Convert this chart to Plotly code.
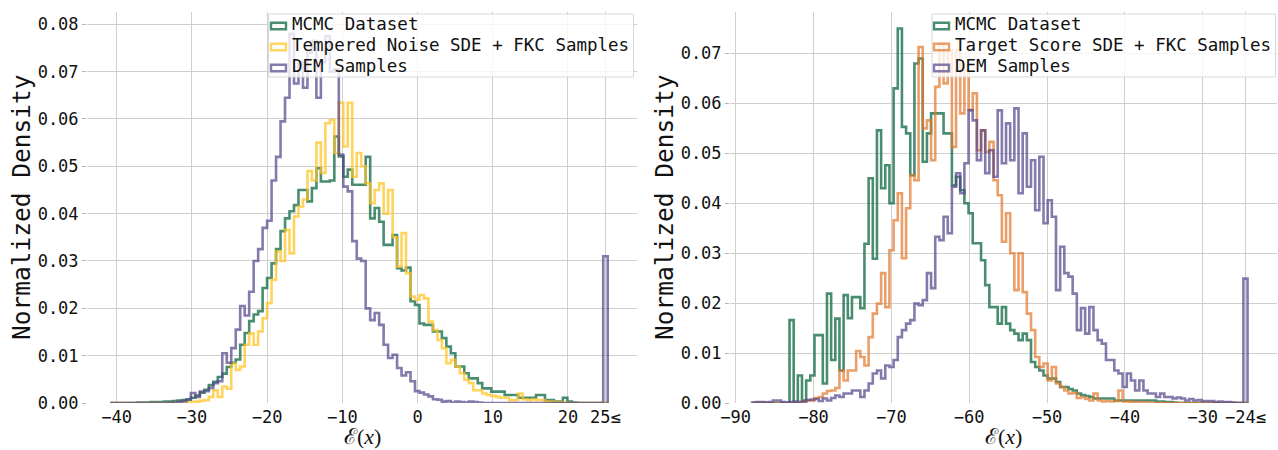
import numpy as np
import plotly.graph_objects as go

W, H = 1278, 450

# ---------------------------------------------------------------- data
# Histogram binning (left: tempered-noise experiment, right: target-score experiment)
L_START, L_WIDTH = -40.86, 0.596
R_START, R_WIDTH = -87.9, 0.535

# Left panel: normalized densities per bin (last bin = overflow, "25<=")
MCMC_L = [
    0, 0, 0, 0, 0, 0, 0.0001, 0.0001, 0.0001, 0.0002,
    0.0002, 0.0002, 0.0003, 0.0003, 0.0004, 0.0005, 0.0006, 0.0007, 0.0011, 0.0016,
    0.0022, 0.0028, 0.0038, 0.0045, 0.0055, 0.0062, 0.0076, 0.0085, 0.0092, 0.0123,
    0.0148, 0.0173, 0.0187, 0.0194, 0.0243, 0.0264, 0.0295, 0.0325, 0.0363, 0.0390,
    0.0405, 0.0418, 0.0450, 0.0450, 0.0426, 0.0454, 0.0496, 0.0468, 0.0468, 0.0470,
    0.0563, 0.0521, 0.0478, 0.0493, 0.0461, 0.0461, 0.0461, 0.0520, 0.0390, 0.0412,
    0.0383, 0.0334, 0.0334, 0.0355, 0.0285, 0.0280, 0.0286, 0.0215, 0.0207, 0.0168,
    0.0165, 0.0165, 0.0151, 0.0151, 0.0137, 0.0119, 0.0105, 0.0077, 0.0077, 0.0063,
    0.0052, 0.0052, 0.0042, 0.0031, 0.0031, 0.0024, 0.0024, 0.0024, 0.0017, 0.0017,
    0.0017, 0.0011, 0.0011, 0.0011, 0.0011, 0.0017, 0.0017, 0.0006, 0.0006, 0.0003,
    0.0003, 0.0011, 0.0003, 0.0001, 0, 0, 0, 0, 0, 0, 0,
]
TEMPERED_L = [
    0, 0, 0, 0, 0, 0, 0, 0, 0, 0,
    0, 0, 0, 0, 0, 0, 0, 0.0001, 0.0002, 0.0003,
    0.0005, 0.0006, 0.0013, 0.0027, 0.0013, 0.0035, 0.0030, 0.0084, 0.0070, 0.0077,
    0.0123, 0.0147, 0.0123, 0.0151, 0.0179, 0.0211, 0.0260, 0.0320, 0.0300, 0.0366,
    0.0316, 0.0394, 0.0415, 0.0430, 0.0490, 0.0470, 0.0550, 0.0486, 0.0591, 0.0598,
    0.0528, 0.0634, 0.0542, 0.0634, 0.0478, 0.0528, 0.0500, 0.0464, 0.0422, 0.0450,
    0.0464, 0.0400, 0.0450, 0.0350, 0.0288, 0.0359, 0.0274, 0.0225, 0.0218, 0.0228,
    0.0221, 0.0172, 0.0154, 0.0133, 0.0116, 0.0084, 0.0091, 0.0077, 0.0063, 0.0049,
    0.0042, 0.0027, 0.0027, 0.0020, 0.0017, 0.0015, 0.0013, 0.0011, 0.0011, 0.0006,
    0.0006, 0.0020, 0.0008, 0.0006, 0.0008, 0.0006, 0.0006, 0.0003, 0.0003, 0.0002,
    0.0002, 0.0001, 0, 0, 0, 0, 0, 0, 0, 0, 0,
]
DEM_L = [
    0, 0, 0, 0, 0, 0, 0, 0, 0, 0,
    0, 0, 0, 0.0001, 0, 0.0002, 0.0004, 0.0008, 0.0021, 0.0013,
    0.0024, 0.0025, 0.0032, 0.0042, 0.0046, 0.0105, 0.0085, 0.0116, 0.0155, 0.0205,
    0.0185, 0.0235, 0.0300, 0.0325, 0.0370, 0.0385, 0.0470, 0.0520, 0.0595, 0.0645,
    0.0780, 0.0675, 0.0720, 0.0666, 0.0740, 0.0765, 0.0645, 0.0720, 0.0775, 0.0700,
    0.0705, 0.0525, 0.0457, 0.0447, 0.0342, 0.0305, 0.0300, 0.0200, 0.0175, 0.0190,
    0.0165, 0.0123, 0.0095, 0.0102, 0.0074, 0.0058, 0.0065, 0.0046, 0.0025, 0.0022,
    0.0018, 0.0014, 0.0008, 0.0007, 0.0003, 0.0004, 0.0001, 0.0003, 0.0002, 0.0001,
    0.0003, 0.0002, 0.0001, 0, 0, 0, 0, 0, 0, 0,
    0, 0, 0, 0, 0, 0, 0, 0, 0, 0,
    0, 0, 0, 0, 0, 0, 0, 0, 0, 0, 0.0310,
]

# Right panel: normalized densities per bin (last bin = overflow, "-24<=")
MCMC_R = [
    0, 0, 0, 0, 0, 0, 0, 0, 0, 0.0166,
    0, 0.0055, 0.0005, 0.0045, 0.0055, 0.0136, 0.0136, 0.0039, 0.0219, 0.0086,
    0.0169, 0.0065, 0.0216, 0.0170, 0.0212, 0.0212, 0.0190, 0.0319, 0.0450, 0.0289,
    0.0546, 0.0430, 0.0476, 0.0400, 0.0630, 0.0750, 0.0553, 0.0540, 0.0456, 0.0680,
    0.0690, 0.0483, 0.0540, 0.0580, 0.0580, 0.0580, 0.0540, 0.0540, 0.0436, 0.0453,
    0.0426, 0.0400, 0.0380, 0.0320, 0.0320, 0.0286, 0.0236, 0.0192, 0.0192, 0.0159,
    0.0192, 0.0159, 0.0146, 0.0139, 0.0126, 0.0139, 0.0126, 0.0082, 0.0072, 0.0065,
    0.0055, 0.0049, 0.0049, 0.0042, 0.0032, 0.0032, 0.0028, 0.0025, 0.0019, 0.0016,
    0.0014, 0.0012, 0.0009, 0.0009, 0.0009, 0.0009, 0.0009, 0.0005, 0.0005, 0.0005,
    0.0005, 0.0005, 0.0005, 0.0005, 0.0005, 0.0005, 0.0005, 0.0003, 0.0003, 0.0002,
    0.0002, 0.0001, 0, 0, 0, 0, 0, 0, 0, 0,
    0, 0, 0, 0, 0, 0, 0, 0, 0,
]
TARGET_R = [
    0, 0, 0, 0, 0, 0, 0, 0, 0, 0,
    0, 0, 0.0003, 0.0005, 0.0005, 0.0010, 0.0012, 0.0019, 0.0024, 0.0025,
    0.0030, 0.0065, 0.0045, 0.0065, 0.0065, 0.0104, 0.0092, 0.0075, 0.0132, 0.0179,
    0.0199, 0.0260, 0.0192, 0.0306, 0.0366, 0.0420, 0.0290, 0.0390, 0.0456, 0.0446,
    0.0713, 0.0550, 0.0566, 0.0486, 0.0633, 0.0720, 0.0640, 0.0707, 0.0513, 0.0707,
    0.0580, 0.0667, 0.0587, 0.0620, 0.0506, 0.0546, 0.0503, 0.0523, 0.0446, 0.0416,
    0.0323, 0.0380, 0.0300, 0.0226, 0.0300, 0.0222, 0.0179, 0.0146, 0.0092, 0.0072,
    0.0079, 0.0045, 0.0072, 0.0039, 0.0032, 0.0025, 0.0019, 0.0020, 0.0010, 0.0012,
    0.0008, 0.0005, 0.0019, 0.0005, 0.0003, 0.0004, 0.0003, 0.0004, 0.0025, 0.0003,
    0.0003, 0.0002, 0.0002, 0.0001, 0.0001, 0.0001, 0, 0, 0, 0,
    0, 0, 0, 0, 0, 0, 0, 0, 0, 0,
    0, 0, 0, 0, 0, 0, 0, 0, 0,
]
DEM_R = [
    0.0001, 0.0002, 0.0002, 0.0001, 0.0002, 0.0005, 0.0005, 0.0002, 0.0001, 0.0002,
    0.0003, 0.0002, 0.0003, 0.0006, 0.0007, 0.0008, 0.0004, 0.0009, 0.0005, 0.0010,
    0.0015, 0.0012, 0.0019, 0.0019, 0.0025, 0.0025, 0.0012, 0.0025, 0.0039, 0.0059,
    0.0065, 0.0049, 0.0075, 0.0072, 0.0086, 0.0132, 0.0146, 0.0159, 0.0166, 0.0199,
    0.0196, 0.0206, 0.0260, 0.0230, 0.0333, 0.0326, 0.0373, 0.0340, 0.0433, 0.0460,
    0.0420, 0.0480, 0.0586, 0.0566, 0.0486, 0.0546, 0.0460, 0.0506, 0.0453, 0.0586,
    0.0480, 0.0560, 0.0486, 0.0590, 0.0420, 0.0540, 0.0433, 0.0486, 0.0386, 0.0493,
    0.0360, 0.0406, 0.0373, 0.0226, 0.0313, 0.0260, 0.0253, 0.0219, 0.0146, 0.0190,
    0.0139, 0.0192, 0.0146, 0.0126, 0.0119, 0.0086, 0.0086, 0.0065, 0.0059, 0.0032,
    0.0059, 0.0045, 0.0025, 0.0045, 0.0025, 0.0019, 0.0019, 0.0012, 0.0019, 0.0012,
    0.0012, 0.0009, 0.0011, 0.0009, 0.0005, 0.0008, 0.0005, 0.0006, 0.0004, 0.0004,
    0.0004, 0.0002, 0.0003, 0.0002, 0.0002, 0.0001, 0, 0, 0.0249,
]

L_XTICKS = [-40, -30, -20, -10, 0, 10, 20]
R_XTICKS = [-90, -80, -70, -60, -50, -40, -30]
L_OVERFLOW_LABEL = "25≤"
R_OVERFLOW_LABEL = "−24≤"
L_YTICKS = [0.00, 0.01, 0.02, 0.03, 0.04, 0.05, 0.06, 0.07, 0.08]
R_YTICKS = [0.00, 0.01, 0.02, 0.03, 0.04, 0.05, 0.06, 0.07]

L_NAMES = ["MCMC Dataset", "Tempered Noise SDE + FKC Samples", "DEM Samples"]
R_NAMES = ["MCMC Dataset", "Target Score SDE + FKC Samples", "DEM Samples"]

# ---------------------------------------------------------------- style
C_MCMC = "rgba(27,112,78,0.80)"
C_TEMP = "rgba(255,196,32,0.72)"
C_DEM = "rgba(84,70,138,0.72)"
C_TGT = "rgba(226,122,46,0.72)"
LW = 2.6
MONO = "DejaVu Sans Mono"
TXT = "#111111"
GRID = "#cfcfcf"

# subplot placement in pixels
L_BOX = (87, 637)
R_BOX = (730, 1277)
TOP_PX, BOT_PX = 12, 403


def step_xy(start, width, vals):
    """Outline of a step histogram (matplotlib histtype='step')."""
    vals = np.asarray(vals, dtype=float)
    edges = start + width * np.arange(len(vals) + 1)
    x = np.concatenate([[edges[0]], edges[:-1], [edges[-1]]])
    y = np.concatenate([[0.0], vals, [0.0]])
    return x, y


def minus(v):
    return f"{v}".replace("-", "−")


fig = go.Figure()

for vals, col, name in zip([MCMC_L, TEMPERED_L, DEM_L], [C_MCMC, C_TEMP, C_DEM], L_NAMES):
    x, y = step_xy(L_START, L_WIDTH, vals)
    fig.add_trace(go.Scatter(x=x, y=y, mode="lines", line=dict(color=col, width=LW, shape="hv"),
                             name=name, showlegend=False, xaxis="x", yaxis="y"))

for vals, col, name in zip([MCMC_R, TARGET_R, DEM_R], [C_MCMC, C_TGT, C_DEM], R_NAMES):
    x, y = step_xy(R_START, R_WIDTH, vals)
    fig.add_trace(go.Scatter(x=x, y=y, mode="lines", line=dict(color=col, width=LW, shape="hv"),
                             name=name, showlegend=False, xaxis="x2", yaxis="y2"))

l_over = L_START + L_WIDTH * (len(DEM_L) - 0.5)
r_over = R_START + R_WIDTH * (len(DEM_R) - 0.5)

L_XRANGE = [-43.95, 29.19]
R_XRANGE = [-90.73, -20.45]
L_YRANGE = [0, 0.0826]
R_YRANGE = [0, 0.0783]

ydom = [1 - BOT_PX / H, 1 - TOP_PX / H]

axis_common = dict(showgrid=True, gridcolor=GRID, gridwidth=1, zeroline=False, showline=False,
                   automargin=False, tickfont=dict(family=MONO, size=17, color=TXT))
x_ticks = dict(ticks="", ticklabelstandoff=2)
y_ticks = dict(ticks="outside", ticklen=4, tickcolor="#b5b5b5")

fig.update_layout(
    width=W, height=H,
    margin=dict(l=0, r=0, t=0, b=0),
    paper_bgcolor="white", plot_bgcolor="white",
    xaxis=dict(domain=[L_BOX[0] / W, L_BOX[1] / W], range=L_XRANGE,
               tickvals=L_XTICKS + [l_over],
               ticktext=[minus(v) for v in L_XTICKS] + [L_OVERFLOW_LABEL],
               **x_ticks, **axis_common),
    yaxis=dict(domain=ydom, range=L_YRANGE, tickvals=L_YTICKS,
               ticktext=[f"{v:.2f}" for v in L_YTICKS], **y_ticks, **axis_common),
    xaxis2=dict(domain=[R_BOX[0] / W, R_BOX[1] / W], range=R_XRANGE, anchor="y2",
                tickvals=R_XTICKS + [r_over],
                ticktext=[minus(v) for v in R_XTICKS] + [R_OVERFLOW_LABEL],
                **x_ticks, **axis_common),
    yaxis2=dict(domain=ydom, range=R_YRANGE, anchor="x2", tickvals=R_YTICKS,
                ticktext=[f"{v:.2f}" for v in R_YTICKS], **y_ticks, **axis_common),
)

shapes = []
annotations = []


def legend(box_x0, box_x1, handle_x0, text_x, names, colors):
    shapes.append(dict(type="rect", xref="paper", yref="paper",
                       x0=box_x0 / W, x1=box_x1 / W, y0=1 - 77 / H, y1=1 - 14 / H,
                       fillcolor="rgba(255,255,255,0.8)", line=dict(color="#d8d8d8", width=1),
                       layer="above"))
    for k, (nm, col) in enumerate(zip(names, colors)):
        hy = 26 + 21 * k
        shapes.append(dict(type="rect", xref="paper", yref="paper",
                           x0=handle_x0 / W, x1=(handle_x0 + 15) / W,
                           y0=1 - (hy + 3.3) / H, y1=1 - (hy - 3.3) / H,
                           fillcolor="rgba(0,0,0,0)", line=dict(color=col, width=2.4),
                           layer="above"))
        annotations.append(dict(xref="paper", yref="paper", x=(text_x - 2) / W,
                                y=1 - (24.5 + 20.6 * k) / H, xanchor="left", yanchor="middle",
                                text=nm, showarrow=False,
                                font=dict(family=MONO, size=17.5, color=TXT)))


legend(268.6, 633.5, 271, 292, L_NAMES, [C_MCMC, C_TEMP, C_DEM])
legend(932, 1275.5, 934, 955, R_NAMES, [C_MCMC, C_TGT, C_DEM])

for cx in (21.6, 664.5):
    annotations.append(dict(xref="paper", yref="paper", x=cx / W, y=1 - 207.5 / H,
                            xanchor="center", yanchor="middle", textangle=-90,
                            text="Normalized Density", showarrow=False,
                            font=dict(family=MONO, size=24.5, color=TXT)))

# x-axis titles sit on the bottom edge of the figure
for cx in ((L_BOX[0] + L_BOX[1]) / 2, (R_BOX[0] + R_BOX[1]) / 2):
    annotations.append(dict(xref="paper", yref="paper", x=cx / W, y=0.0,
                            xanchor="center", yanchor="bottom", borderpad=0,
                            text="ℰ(<i>x</i>)", showarrow=False,
                            font=dict(family="Liberation Serif, DejaVu Serif", size=22, color=TXT)))

fig.update_layout(shapes=shapes, annotations=annotations)
fig.write_html("out.html")
